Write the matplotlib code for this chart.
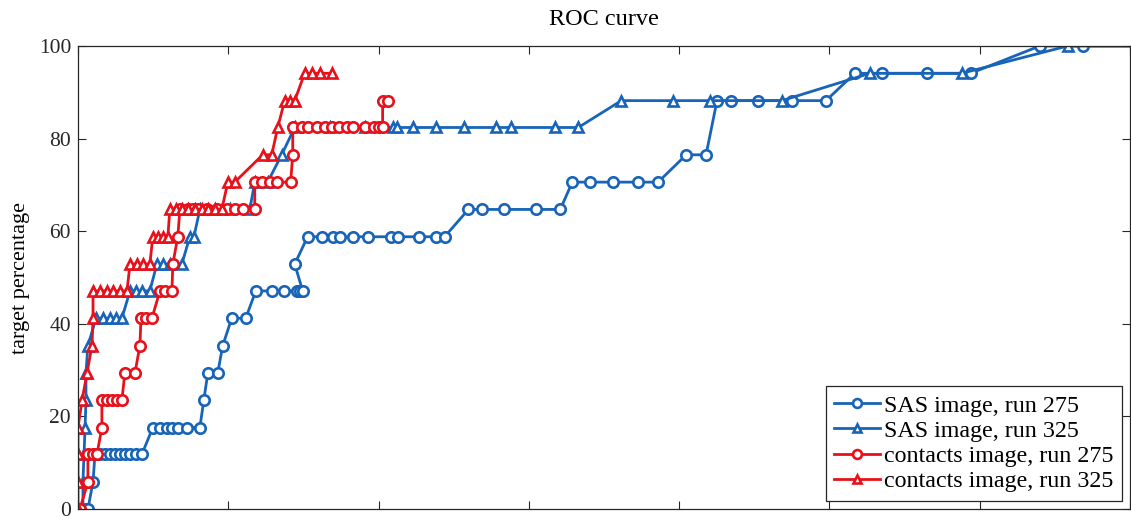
import matplotlib
matplotlib.use("Agg")
import matplotlib.pyplot as plt

plt.rcParams['font.family'] = ['Liberation Serif', 'DejaVu Serif']

# false-alarm axis values and detection percentages for each run
sas275_x = [0.053, 0.066, 0.100, 0.113, 0.146, 0.179, 0.213, 0.246, 0.279, 0.312,
            0.346, 0.385, 0.425, 0.498, 0.545, 0.591, 0.625, 0.664, 0.724, 0.811,
            0.837, 0.864, 0.930, 0.963, 1.023, 1.116, 1.183, 1.289, 1.369, 1.455,
            1.475, 1.495, 1.442, 1.528, 1.621, 1.694, 1.741, 1.827, 1.927, 2.086,
            2.126, 2.272, 2.385, 2.439, 2.598, 2.691, 2.837, 3.050, 3.209, 3.289,
            3.409, 3.561, 3.728, 3.860, 4.047, 4.179, 4.252, 4.346, 4.525, 4.751,
            4.977, 5.169, 5.349, 5.648, 5.940, 6.399, 6.684, 7.200]
sas275_y = [0, 0, 5.9, 11.8, 11.8, 11.8, 11.8, 11.8, 11.8, 11.8,
            11.8, 11.8, 11.8, 17.6, 17.6, 17.6, 17.6, 17.6, 17.6, 17.6,
            23.5, 29.4, 29.4, 35.3, 41.2, 41.2, 47.1, 47.1, 47.1, 47.1,
            47.1, 47.1, 52.9, 58.8, 58.8, 58.8, 58.8, 58.8, 58.8, 58.8,
            58.8, 58.8, 58.8, 58.8, 64.7, 64.7, 64.7, 64.7, 64.7, 70.6,
            70.6, 70.6, 70.6, 70.6, 76.5, 76.5, 88.2, 88.2, 88.2, 88.2,
            88.2, 94.1, 94.1, 94.1, 94.1, 100, 100, 100]

sas325_x = [0.033, 0.033, 0.040, 0.047, 0.053, 0.053, 0.066, 0.120, 0.166, 0.213,
            0.252, 0.292, 0.346, 0.385, 0.425, 0.478, 0.525, 0.565, 0.611, 0.691,
            0.744, 0.771, 0.811, 0.910, 1.010, 1.143, 1.176, 1.262, 1.355, 1.442,
            1.674, 1.907, 2.093, 2.120, 2.226, 2.385, 2.571, 2.784, 2.884, 3.176,
            3.329, 3.615, 3.960, 4.206, 4.684, 5.269, 5.880, 6.585, 7.200]
sas325_y = [0, 5.9, 11.8, 17.6, 23.5, 29.4, 35.3, 41.2, 41.2, 41.2,
            41.2, 41.2, 47.1, 47.1, 47.1, 47.1, 52.9, 52.9, 52.9, 52.9,
            58.8, 58.8, 64.7, 64.7, 64.7, 64.7, 70.6, 70.6, 76.5, 82.4,
            82.4, 82.4, 82.4, 82.4, 82.4, 82.4, 82.4, 82.4, 82.4, 82.4,
            82.4, 88.2, 88.2, 88.2, 88.2, 94.1, 94.1, 100, 100]

cont275_x = [0.013, 0.066, 0.066, 0.100, 0.126, 0.159, 0.159, 0.193, 0.226, 0.259,
             0.292, 0.312, 0.379, 0.412, 0.419, 0.452, 0.492, 0.545, 0.578, 0.625,
             0.631, 0.664, 0.678, 0.731, 0.764, 0.797, 0.857, 0.924, 0.990, 1.043,
             1.096, 1.176, 1.176, 1.223, 1.276, 1.322, 1.415, 1.429, 1.429, 1.488,
             1.528, 1.588, 1.641, 1.688, 1.734, 1.787, 1.827, 1.907, 1.967, 2.000,
             2.027, 2.027, 2.060]
cont275_y = [0, 5.9, 11.8, 11.8, 11.8, 17.6, 23.5, 23.5, 23.5, 23.5,
             23.5, 29.4, 29.4, 35.3, 41.2, 41.2, 41.2, 47.1, 47.1, 47.1,
             52.9, 58.8, 64.7, 64.7, 64.7, 64.7, 64.7, 64.7, 64.7, 64.7,
             64.7, 64.7, 70.6, 70.6, 70.6, 70.6, 70.6, 76.5, 82.4, 82.4,
             82.4, 82.4, 82.4, 82.4, 82.4, 82.4, 82.4, 82.4, 82.4, 82.4,
             82.4, 88.2, 88.2]

cont325_x = [0.000, 0.000, 0.000, 0.000, 0.027, 0.060, 0.093, 0.100, 0.100, 0.146,
             0.193, 0.233, 0.279, 0.326, 0.346, 0.392, 0.432, 0.478, 0.498, 0.532,
             0.565, 0.598, 0.611, 0.651, 0.691, 0.731, 0.777, 0.824, 0.864, 0.910,
             0.957, 0.997, 1.043, 1.229, 1.289, 1.329, 1.375, 1.409, 1.442, 1.508,
             1.555, 1.608, 1.688]
cont325_y = [0, 5.9, 11.8, 17.6, 23.5, 29.4, 35.3, 41.2, 47.1, 47.1,
             47.1, 47.1, 47.1, 47.1, 52.9, 52.9, 52.9, 52.9, 58.8, 58.8,
             58.8, 58.8, 64.7, 64.7, 64.7, 64.7, 64.7, 64.7, 64.7, 64.7,
             64.7, 70.6, 70.6, 76.5, 76.5, 82.4, 88.2, 88.2, 88.2, 94.1,
             94.1, 94.1, 94.1]

labels = ['SAS image, run 275', 'SAS image, run 325',
          'contacts image, run 275', 'contacts image, run 325']

blue = '#1764b8'
red = '#e8101a'

fig = plt.figure(figsize=(11.31, 5.19), dpi=100)
ax = fig.add_axes([78 / 1131, 10 / 519, 1052 / 1131, 463 / 519])

style = dict(linewidth=2.0, markersize=7.5, markeredgewidth=1.9,
             markerfacecolor='white')
ax.plot(sas275_x, sas275_y, '-o', color=blue, label=labels[0], **style)
ax.plot(sas325_x, sas325_y, '-^', color=blue, label=labels[1], **style)
ax.plot(cont275_x, cont275_y, '-o', color=red, label=labels[2], **style)
ax.plot(cont325_x, cont325_y, '-^', color=red, label=labels[3], **style)

ax.set_xlim(0, 7)
ax.set_ylim(0, 100)
ax.set_xticks(range(0, 8))
ax.set_yticks(range(0, 101, 20))
ax.tick_params(direction='in', length=6, width=0.8, top=True, right=True,
               labelbottom=False, labelsize=15.5, colors='#262626', pad=5)
for s in ax.spines.values():
    s.set_color('#262626')
    s.set_linewidth(0.9)

ax.set_title('ROC curve', fontsize=17.5, pad=15)
ax.set_ylabel('target percentage', fontsize=16, labelpad=6)

leg = ax.legend(loc='lower right', fontsize=17.3, frameon=True, fancybox=False,
                edgecolor='#262626', framealpha=1, labelspacing=0.14,
                handlelength=1.9, handletextpad=0.15, borderpad=0.35,
                borderaxespad=0.35, markerscale=0.85)
leg.get_frame().set_linewidth(0.9)

fig.savefig('out.png', dpi=100)
